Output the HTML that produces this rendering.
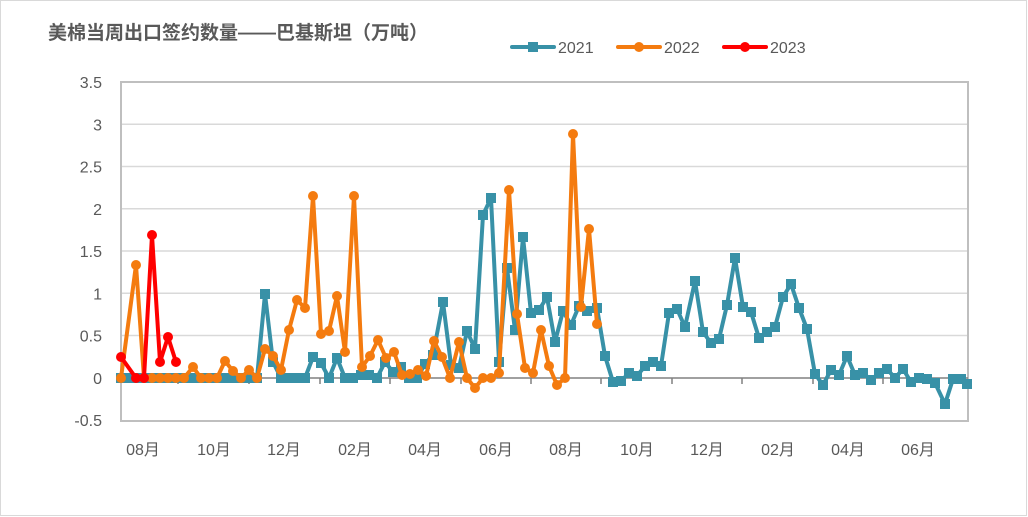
<!DOCTYPE html>
<html><head><meta charset="utf-8"><style>
html,body{margin:0;padding:0;background:#fff;}
svg{display:block;}
</style></head><body>
<svg id="c" width="1028" height="517" xmlns="http://www.w3.org/2000/svg" font-family="'Liberation Sans','Noto Sans CJK SC',sans-serif">
<rect x="0.5" y="0.5" width="1026" height="515" fill="#fff" stroke="#d9d9d9"/>
<text x="48" y="39" font-size="19" font-weight="bold" fill="#595959" font-family="'Liberation Sans','Noto Sans CJK SC',sans-serif">美棉当周出口签约数量——巴基斯坦（万吨）</text>
<g font-size="16" fill="#595959">
<line x1="512" y1="47" x2="554" y2="47" stroke="#3891a7" stroke-width="4" stroke-linecap="round"/><rect x="528" y="42" width="10" height="10" fill="#3891a7"/><text x="558" y="53">2021</text>
<line x1="618" y1="47" x2="660" y2="47" stroke="#f47b0f" stroke-width="4" stroke-linecap="round"/><circle cx="639" cy="47" r="5" fill="#f47b0f"/><text x="664" y="53">2022</text>
<line x1="724" y1="47" x2="766" y2="47" stroke="#ff0000" stroke-width="4" stroke-linecap="round"/><circle cx="745" cy="47" r="5" fill="#ff0000"/><text x="770" y="53">2023</text>
</g>
<g id="grid"></g>
<g id="series"></g>
</svg>
<script>
var ns="http://www.w3.org/2000/svg";
function el(p,t,a,txt){var e=document.createElementNS(ns,t);for(var k in a)e.setAttribute(k,a[k]);if(txt!=null)e.textContent=txt;p.appendChild(e);return e;}
var g=document.getElementById('grid'),s=document.getElementById('series');
var vals=['3.5','3','2.5','2','1.5','1','0.5','0','-0.5'];
for(var i=0;i<9;i++){var y=82+i*42.25;
 if(i>0&&i<8&&i!=7)el(g,'line',{x1:121,x2:968,y1:y,y2:y,stroke:'#d9d9d9','stroke-width':1.5});
 el(g,'text',{x:102,y:y+6,'font-size':16,fill:'#595959','text-anchor':'end'},vals[i]);}
el(g,'rect',{x:121,y:82,width:847,height:339,fill:'none',stroke:'#bfbfbf','stroke-width':2});
el(g,'line',{x1:121,x2:968,y1:378,y2:378,stroke:'#808080','stroke-width':1.5});
var mx=[143,214,284,355,425,496,566,637,707,778,848,918],ml=['08月','10月','12月','02月','04月','06月','08月','10月','12月','02月','04月','06月'];
var tk=[178,249,320,390,461,531,601,672,742,813,883];
for(var i=0;i<tk.length;i++)el(g,'line',{x1:tk[i],x2:tk[i],y1:378,y2:384,stroke:'#808080','stroke-width':1.5});
for(var i=0;i<12;i++)el(g,'text',{x:mx[i],y:455,'font-size':16,fill:'#595959','text-anchor':'middle'},ml[i]);
var t21=[[121,378],[129,378],[137,378],[145,378],[153,378],[161,378],[169,378],[177,378],[185,378],[193,378],[201,378],[209,378],[217,378],[225,378],[233,378],[241,378],[249,378],[257,378],[265,294],[273,362],[281,378],[289,378],[297,378],[305,378],[313,357],[321,363],[329,378],[337,358],[345,378],[353,378],[361,375],[369,375],[377,378],[385,362],[393,372],[401,367],[409,378],[417,378],[425,364],[433,355],[443,302],[451,365],[459,368],[467,331],[475,349],[483,215],[491,198],[499,362],[507,268],[515,330],[523,237],[531,313],[539,310],[547,297],[555,342],[563,311],[571,325],[579,306],[587,311],[597,308],[605,356],[613,382],[621,381],[629,373],[637,376],[645,366],[653,362],[661,366],[669,313],[677,309],[685,327],[695,281],[703,332],[711,343],[719,339],[727,305],[735,258],[743,307],[751,312],[759,338],[767,332],[775,327],[783,297],[791,284],[799,308],[807,329],[815,374],[823,385],[831,370],[839,375],[847,356],[855,375],[863,373],[871,380],[879,373],[887,369],[895,378],[903,369],[911,382],[919,378],[927,379],[935,383],[945,404],[953,379],[961,379],[967,384]];
var o22=[[121,378],[136,265],[144,378],[152,378],[160,378],[168,378],[176,378],[184,378],[193,367],[201,378],[209,378],[217,378],[225,361],[233,371],[241,378],[249,370],[257,378],[265,349],[273,356],[281,370],[289,330],[297,300],[305,308],[313,196],[321,334],[329,331],[337,296],[345,352],[354,196],[362,367],[370,356],[378,340],[386,358],[394,352],[402,375],[410,374],[418,370],[426,376],[434,341],[442,357],[450,378],[459,342],[467,378],[475,388],[483,378],[491,378],[499,373],[509,190],[517,314],[525,368],[533,373],[541,330],[549,366],[557,385],[565,378],[573,134],[581,307],[589,229],[597,324]];
var r23=[[121,357],[136,378],[144,378],[152,235],[160,362],[168,337],[176,362]];
function series(d,c,m){el(s,'polyline',{points:d.map(function(p){return p.join(',')}).join(' '),fill:'none',stroke:c,'stroke-width':4,'stroke-linejoin':'round'});
 d.forEach(function(p){if(m=='sq')el(s,'rect',{x:p[0]-5,y:p[1]-5,width:10,height:10,fill:c});else el(s,'circle',{cx:p[0],cy:p[1],r:5,fill:c});});}
series(t21,'#3891a7','sq');series(o22,'#f47b0f','c');series(r23,'#ff0000','c');
</script>
</body></html>
